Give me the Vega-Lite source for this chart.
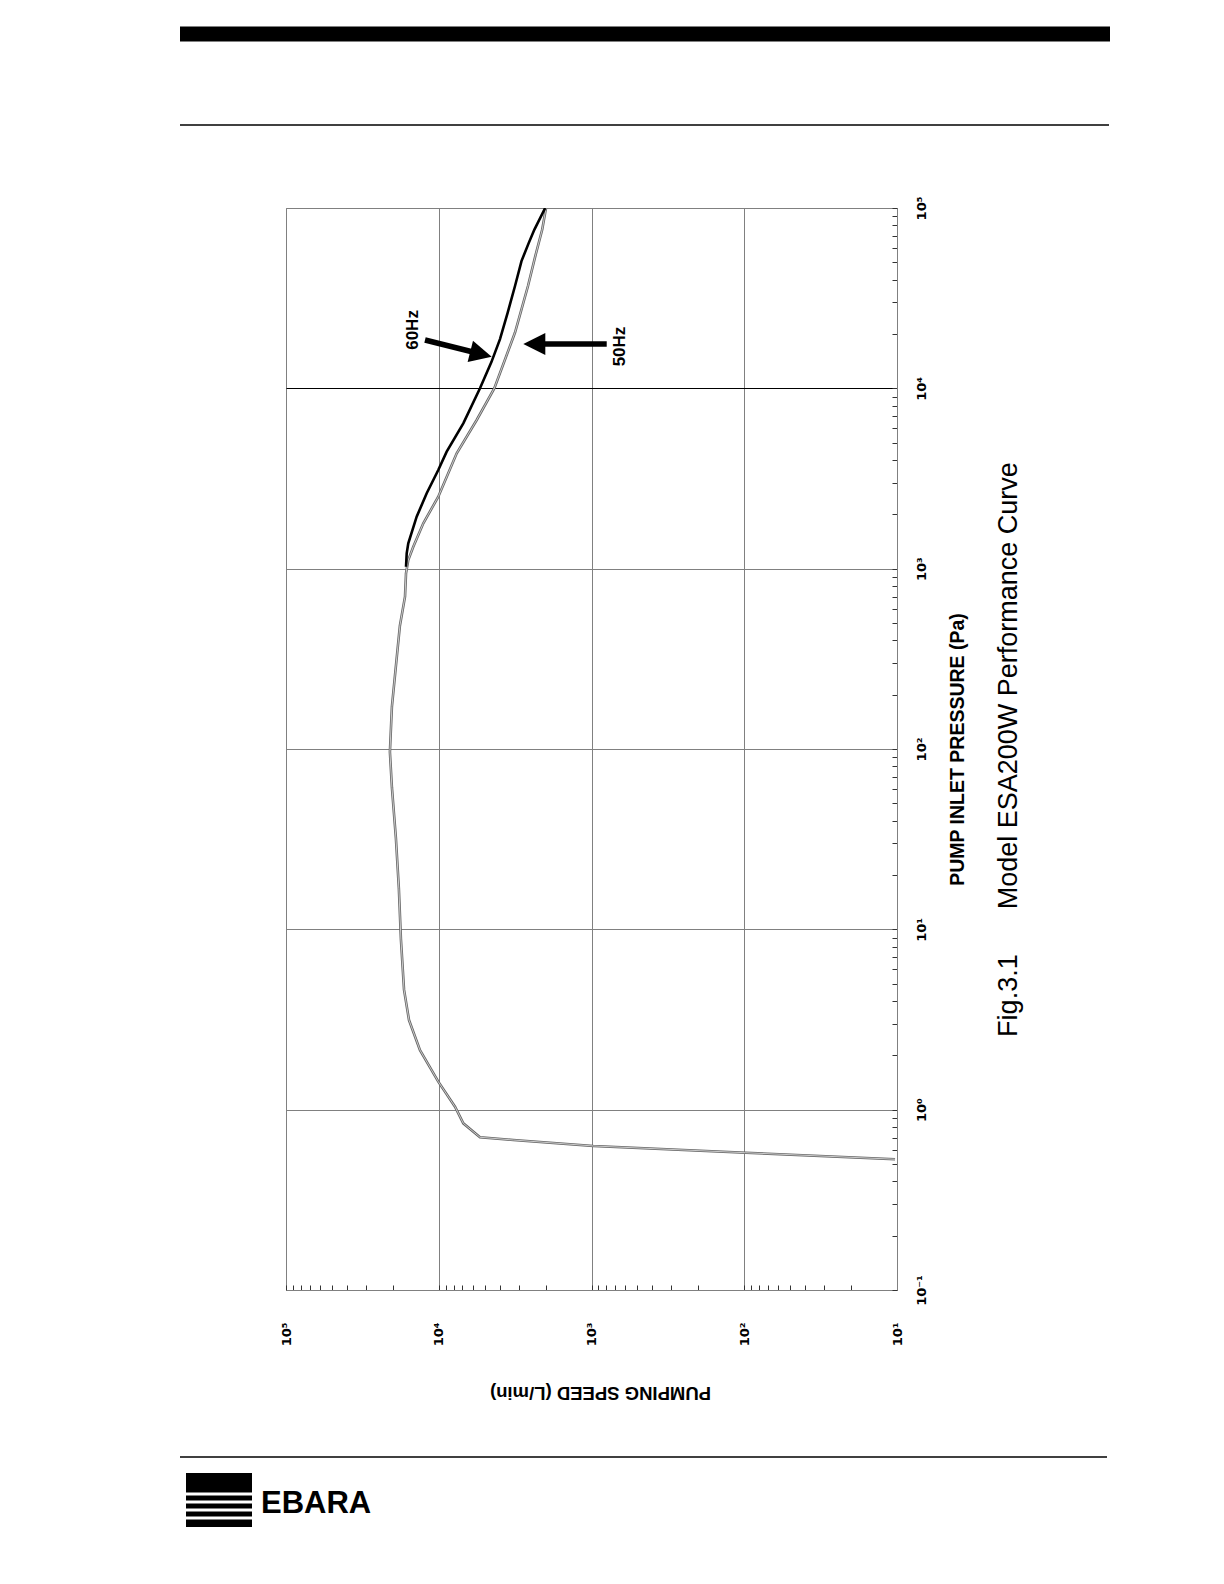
{
  "$schema": "https://vega.github.io/schema/vega-lite/v6.json",
  "width": 611,
  "height": 1082,
  "autosize": {"type": "none"},
  "padding": {"left": 286, "top": 208, "right": 327, "bottom": 294},
  "background": "white",
  "config": {"view": {"stroke": "#808080", "strokeWidth": 1}, "font": "Liberation Sans"},
  "datasets": {
    "curve50": [
      {"pressure": 0.531, "speed": 10.3},
      {"pressure": 0.577, "speed": 97.8},
      {"pressure": 0.629, "speed": 973},
      {"pressure": 0.679, "speed": 3250},
      {"pressure": 0.703, "speed": 5370},
      {"pressure": 0.84, "speed": 6907},
      {"pressure": 1.038, "speed": 7827},
      {"pressure": 1.43, "speed": 10070},
      {"pressure": 2.14, "speed": 13270},
      {"pressure": 3.14, "speed": 15660},
      {"pressure": 4.63, "speed": 16880},
      {"pressure": 8.83, "speed": 17690},
      {"pressure": 16.8, "speed": 18240},
      {"pressure": 32.1, "speed": 19080},
      {"pressure": 61.2, "speed": 20260},
      {"pressure": 96.2, "speed": 20880},
      {"pressure": 172, "speed": 20260},
      {"pressure": 328, "speed": 18790},
      {"pressure": 483, "speed": 17960},
      {"pressure": 699, "speed": 16630},
      {"pressure": 942, "speed": 16380},
      {"pressure": 1117, "speed": 15830},
      {"pressure": 1324, "speed": 14680},
      {"pressure": 1785, "speed": 12620},
      {"pressure": 2506, "speed": 10070},
      {"pressure": 4362, "speed": 7628},
      {"pressure": 6674, "speed": 5643},
      {"pressure": 10000, "speed": 4330},
      {"pressure": 15170, "speed": 3606},
      {"pressure": 20400, "speed": 3168},
      {"pressure": 27440, "speed": 2873},
      {"pressure": 36940, "speed": 2605},
      {"pressure": 54120, "speed": 2333},
      {"pressure": 75900, "speed": 2102},
      {"pressure": 100000, "speed": 1985}
    ],
    "curve60": [
      {"pressure": 1025, "speed": 16380},
      {"pressure": 1217, "speed": 16210},
      {"pressure": 1382, "speed": 15830},
      {"pressure": 1942, "speed": 13950},
      {"pressure": 2618, "speed": 11990},
      {"pressure": 3524, "speed": 10070},
      {"pressure": 4453, "speed": 8873},
      {"pressure": 6397, "speed": 6906},
      {"pressure": 10000, "speed": 5370},
      {"pressure": 13930, "speed": 4529},
      {"pressure": 18750, "speed": 3972},
      {"pressure": 26300, "speed": 3537},
      {"pressure": 36940, "speed": 3168},
      {"pressure": 50760, "speed": 2873},
      {"pressure": 64050, "speed": 2574},
      {"pressure": 75900, "speed": 2365},
      {"pressure": 100000, "speed": 2010}
    ],
    "notes": [
      {"text": "60Hz", "speed": 14830, "pressure": 21070},
      {"text": "50Hz", "speed": 651, "pressure": 17060}
    ],
    "arrows": [
      {"name": "60Hz", "s1": 12300, "p1": 18530, "s2": 5290, "p2": 15500},
      {"name": "50Hz", "s1": 795, "p1": 17610, "s2": 2369, "p2": 17610}
    ],
    "page": [
      {"part": "bar", "x1": 180, "x2": 1110, "y": 34},
      {"part": "line", "x1": 180, "x2": 1109, "y": 125},
      {"part": "line", "x1": 180, "x2": 1107, "y": 1457},
      {"part": "logo", "x1": 186, "x2": 252, "y": 1473, "y2": 1527},
      {"part": "wave", "x1": 186, "x2": 252, "y": 1494},
      {"part": "wave", "x1": 186, "x2": 252, "y": 1502},
      {"part": "wave", "x1": 186, "x2": 252, "y": 1510},
      {"part": "wave", "x1": 186, "x2": 252, "y": 1518},
      {"part": "brand", "x1": 261, "y": 1513, "text": "EBARA"}
    ]
  },
  "layer": [
    {
      "layer": [
        {
          "data": {"name": "curve50"},
          "mark": {"type": "line", "color": "#666666", "strokeWidth": 2.6, "clip": true},
          "encoding": {
            "x": {
              "field": "speed", "type": "quantitative",
              "scale": {"type": "log", "domain": [10, 100000], "reverse": true, "nice": false},
              "axis": {
                "orient": "bottom",
                "values": [10,20,30,40,50,60,70,80,90,100,200,300,400,500,600,700,800,900,1000,2000,3000,4000,5000,6000,7000,8000,9000,10000,20000,30000,40000,50000,60000,70000,80000,90000,100000],
                "title": "PUMPING SPEED (L/min)",
                "titleAngle": 180, "titleBaseline": "bottom", "titlePadding": 37, "titleX": 314,
                "titleFontSize": 18.5, "titleFontWeight": "bold", "titleFont": "Liberation Sans", "titleColor": "black",
                "labelExpr": "datum.value == 100000 ? '10⁵' : datum.value == 10000 ? '10⁴' : datum.value == 1000 ? '10³' : datum.value == 100 ? '10²' : datum.value == 10 ? '10¹' : datum.value == 1 ? '10⁰' : datum.value == 0.1 ? '10⁻¹' : ''",
                "labelAngle": 270, "labelAlign": "right", "labelBaseline": "middle", "labelPadding": 37,
                "labelFontSize": 13, "labelFontWeight": "bold", "labelColor": "black", "labelFont": "DejaVu Sans",
                "labelFlush": false, "labelOverlap": false, "labelBound": false,
                "ticks": true, "tickSize": -5, "tickColor": "#333333", "tickWidth": 1,
                "domain": true, "domainColor": "#808080",
                "grid": true, "gridColor": "#808080", "gridWidth": 1,
                "gridOpacity": {"condition": {"test": "indexof([10,100,1000,10000,100000], datum.value) >= 0", "value": 1}, "value": 0}
              }
            },
            "y": {
              "field": "pressure", "type": "quantitative",
              "scale": {"type": "log", "domain": [0.1, 100000], "nice": false},
              "axis": {
                "orient": "right",
                "values": [0.1,0.2,0.3,0.4,0.5,0.6,0.7,0.8,0.9,1,2,3,4,5,6,7,8,9,10,20,30,40,50,60,70,80,90,100,200,300,400,500,600,700,800,900,1000,2000,3000,4000,5000,6000,7000,8000,9000,10000,20000,30000,40000,50000,60000,70000,80000,90000,100000],
                "title": "PUMP INLET PRESSURE (Pa)",
                "titleAngle": 270, "titleBaseline": "top", "titlePadding": 20,
                "titleFontSize": 19.5, "titleFontWeight": "bold", "titleFont": "Liberation Sans", "titleColor": "black",
                "labelExpr": "datum.value == 100000 ? '10⁵' : datum.value == 10000 ? '10⁴' : datum.value == 1000 ? '10³' : datum.value == 100 ? '10²' : datum.value == 10 ? '10¹' : datum.value == 1 ? '10⁰' : datum.value == 0.1 ? '10⁻¹' : ''",
                "labelAngle": 270, "labelAlign": "center", "labelBaseline": "top", "labelPadding": 23,
                "labelFontSize": 13, "labelFontWeight": "bold", "labelColor": "black", "labelFont": "DejaVu Sans",
                "labelFlush": false, "labelOverlap": false, "labelBound": false,
                "ticks": true, "tickSize": -5, "tickColor": "#333333", "tickWidth": 1,
                "domain": true, "domainColor": "#808080",
                "grid": true, "gridWidth": 1,
                "gridColor": {"condition": {"test": "datum.value == 10000", "value": "black"}, "value": "#808080"},
                "gridOpacity": {"condition": {"test": "indexof([0.1,1,10,100,1000,10000,100000], datum.value) >= 0", "value": 1}, "value": 0}
              }
            },
            "order": {"field": "pressure", "type": "quantitative"}
          }
        },
        {
          "data": {"name": "curve50"},
          "mark": {"type": "line", "color": "#d6d6d6", "strokeWidth": 0.9, "clip": true},
          "encoding": {
            "x": {"field": "speed", "type": "quantitative"},
            "y": {"field": "pressure", "type": "quantitative"},
            "order": {"field": "pressure", "type": "quantitative"}
          }
        },
        {
          "data": {"name": "curve60"},
          "mark": {"type": "line", "color": "black", "strokeWidth": 2.6, "clip": true},
          "encoding": {
            "x": {"field": "speed", "type": "quantitative"},
            "y": {"field": "pressure", "type": "quantitative"},
            "order": {"field": "pressure", "type": "quantitative"}
          }
        },
        {
          "data": {"name": "notes"},
          "mark": {"type": "text", "angle": 270, "fontSize": 17, "fontWeight": "bold", "font": "Liberation Sans", "align": "center", "baseline": "middle", "color": "black"},
          "encoding": {
            "x": {"field": "speed", "type": "quantitative"},
            "y": {"field": "pressure", "type": "quantitative"},
            "text": {"field": "text"}
          }
        },
        {
          "data": {"name": "arrows"},
          "transform": [{"filter": "datum.name == '60Hz'"}],
          "mark": {"type": "rule", "strokeWidth": 5.5, "color": "black"},
          "encoding": {
            "x": {"field": "s1", "type": "quantitative"},
            "x2": {"field": "s2"},
            "y": {"field": "p1", "type": "quantitative"},
            "y2": {"field": "p2"}
          }
        },
        {
          "data": {"name": "arrows"},
          "transform": [{"filter": "datum.name == '60Hz'"}],
          "mark": {"type": "point", "shape": "M-1,-1L1,0L-1,1Z", "size": 484, "angle": 14, "filled": true, "color": "black", "opacity": 1, "strokeWidth": 0},
          "encoding": {
            "x": {"field": "s2", "type": "quantitative"},
            "y": {"field": "p2", "type": "quantitative"}
          }
        },
        {
          "data": {"name": "arrows"},
          "transform": [{"filter": "datum.name == '50Hz'"}],
          "mark": {"type": "rule", "strokeWidth": 5.5, "color": "black"},
          "encoding": {
            "x": {"field": "s1", "type": "quantitative"},
            "x2": {"field": "s2"},
            "y": {"field": "p1", "type": "quantitative"},
            "y2": {"field": "p2"}
          }
        },
        {
          "data": {"name": "arrows"},
          "transform": [{"filter": "datum.name == '50Hz'"}],
          "mark": {"type": "point", "shape": "M-1,-1L1,0L-1,1Z", "size": 484, "angle": 180, "filled": true, "color": "black", "opacity": 1, "strokeWidth": 0},
          "encoding": {
            "x": {"field": "s2", "type": "quantitative"},
            "y": {"field": "p2", "type": "quantitative"}
          }
        }
      ]
    },
    {
      "data": {"name": "page"},
      "layer": [
        {
          "transform": [{"filter": "datum.part == 'bar'"}],
          "mark": {"type": "rule", "strokeWidth": 15, "color": "black"},
          "encoding": {
            "x": {"field": "x1", "type": "quantitative", "scale": {"domain": [286, 897], "zero": false, "nice": false}, "axis": null},
            "x2": {"field": "x2"},
            "y": {
              "field": "y", "type": "quantitative",
              "scale": {"domain": [208, 1290], "reverse": true, "zero": false, "nice": false},
              "axis": {
                "orient": "right",
                "title": "Fig.3.1 \u00a0\u00a0\u00a0\u00a0\u00a0Model ESA200W Performance Curve",
                "titleAngle": 270, "titleBaseline": "top", "titlePadding": 98,
                "titleFontSize": 27, "titleFontWeight": "normal", "titleFont": "Liberation Sans", "titleColor": "black",
                "labels": false, "ticks": false, "domain": false, "grid": false
              }
            }
          }
        },
        {
          "transform": [{"filter": "datum.part == 'line'"}],
          "mark": {"type": "rule", "strokeWidth": 1.6, "color": "black"},
          "encoding": {
            "x": {"field": "x1", "type": "quantitative"},
            "x2": {"field": "x2"},
            "y": {"field": "y", "type": "quantitative"}
          }
        },
        {
          "transform": [{"filter": "datum.part == 'logo'"}],
          "mark": {"type": "rect", "color": "black"},
          "encoding": {
            "x": {"field": "x1", "type": "quantitative"},
            "x2": {"field": "x2"},
            "y": {"field": "y", "type": "quantitative"},
            "y2": {"field": "y2"}
          }
        },
        {
          "transform": [{"filter": "datum.part == 'wave'"}],
          "mark": {"type": "rule", "strokeWidth": 3, "color": "white"},
          "encoding": {
            "x": {"field": "x1", "type": "quantitative"},
            "x2": {"field": "x2"},
            "y": {"field": "y", "type": "quantitative"}
          }
        },
        {
          "transform": [{"filter": "datum.part == 'brand'"}],
          "mark": {"type": "text", "align": "left", "baseline": "alphabetic", "fontSize": 31, "fontWeight": "bold", "font": "Liberation Sans", "color": "black"},
          "encoding": {
            "x": {"field": "x1", "type": "quantitative"},
            "y": {"field": "y", "type": "quantitative"},
            "text": {"field": "text"}
          }
        }
      ]
    }
  ],
  "resolve": {"scale": {"x": "independent", "y": "independent"}}
}
